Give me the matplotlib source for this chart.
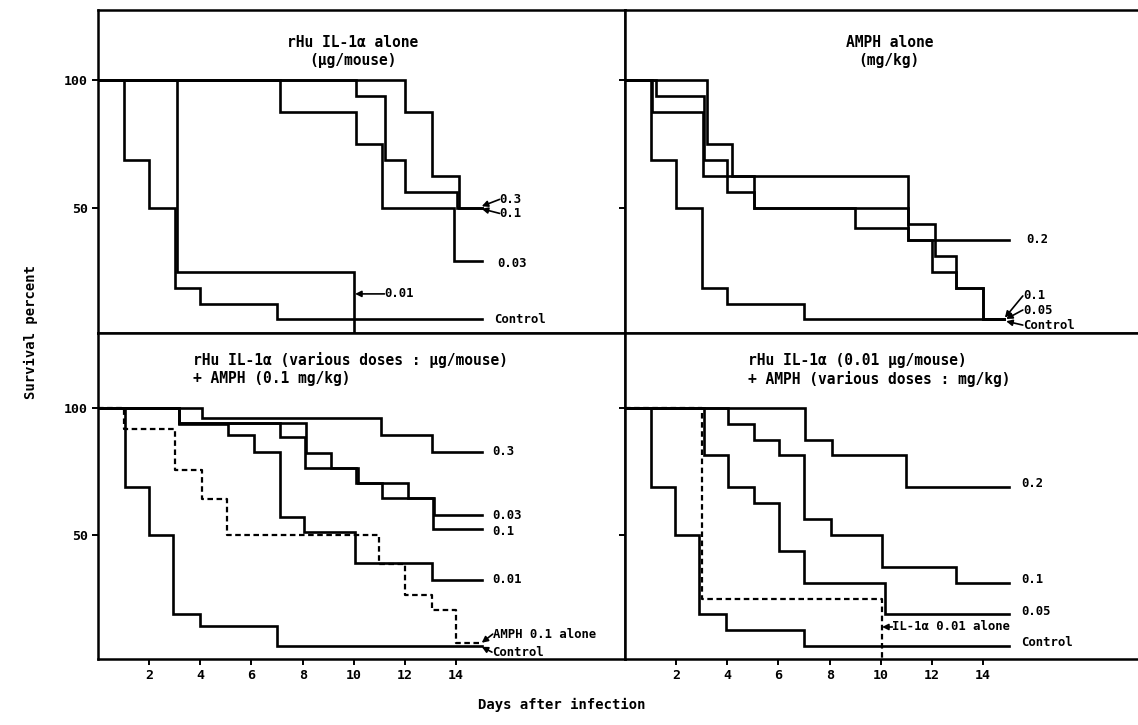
import numpy as np
import matplotlib.pyplot as plt

plt.rcParams['font.family'] = ['DejaVu Sans Mono']
plt.rcParams['font.weight'] = 'bold'

# ---- data: step days and survival percent ----
xticks = [2, 4, 6, 8, 10, 12, 14]
yticks = [50, 100]

# A: rHu IL-1a alone (ug/mouse)
a_ctrl_days = [0, 1, 2, 3, 4, 7, 15]
a_ctrl_surv = [100, 68.8, 50, 18.8, 12.5, 6.3, 6.3]
a_001_days = [0, 3.1, 10]
a_001_surv = [100, 25, 0]
a_003_days = [0, 7.1, 10.1, 11.1, 13.9, 15]
a_003_surv = [100, 87.5, 75, 50, 29, 29]
a_01_days = [0, 10.1, 11.2, 12.0, 14.05, 15]
a_01_surv = [100, 93.8, 68.8, 56.3, 50, 50]
a_03_days = [0, 12.0, 13.05, 14.1, 15]
a_03_surv = [100, 87.5, 62.5, 50, 50]

# B: AMPH alone (mg/kg)
b_ctrl_days = [0, 1.0, 2.0, 3.0, 4.0, 7.0, 14.8]
b_ctrl_surv = [100, 68.8, 50, 18.8, 12.5, 6.3, 6.3]
b_02_days = [0, 3.2, 4.2, 11.05, 15]
b_02_surv = [100, 75, 62.5, 37.5, 37.5]
b_01_days = [0, 1.2, 3.1, 4.0, 5.05, 11.07, 12.1, 12.95, 13.98, 14.8]
b_01_surv = [100, 93.8, 68.8, 56.3, 50, 43.8, 31.3, 18.8, 6.3, 6.3]
b_005_days = [0, 1.05, 3.05, 5.05, 9.0, 11.07, 12.0, 12.95, 13.98, 14.8]
b_005_surv = [100, 87.5, 62.5, 50, 42, 37.5, 25, 18.8, 6.3, 6.3]

# C: rHu IL-1a (various doses) + AMPH 0.1 mg/kg
c_ctrl_days = [0, 1.05, 2.0, 2.95, 3.97, 7.0, 15]
c_ctrl_surv = [100, 69, 50, 19, 14, 6.3, 6.3]
c_amph_days = [0, 1.0, 3.0, 4.05, 5.05, 11.0, 12.0, 13.05, 14.0, 15]
c_amph_surv = [100, 91.7, 75.5, 64, 50, 38.5, 26.3, 20.4, 7.6, 7.6]
c_001_days = [0, 3.15, 5.1, 6.1, 7.1, 8.05, 10.05, 13.05, 15]
c_001_surv = [100, 93.8, 89.2, 82.6, 57, 51, 38.9, 32.3, 32.3]
c_01_days = [0, 3.15, 7.1, 8.1, 10.1, 11.1, 13.1, 15]
c_01_surv = [100, 94, 88.5, 76.2, 70.3, 64.4, 52.5, 52.5]
c_003_days = [0, 3.15, 8.15, 9.1, 10.15, 12.1, 13.15, 15]
c_003_surv = [100, 94, 82.4, 76.2, 70.3, 64.4, 57.8, 57.8]
c_03_days = [0, 4.05, 11.05, 13.05, 15]
c_03_surv = [100, 96.2, 89.5, 82.8, 82.8]

# D: rHu IL-1a 0.01 ug/mouse + AMPH (various doses)
d_ctrl_days = [0, 1.0, 1.96, 2.9, 3.94, 7.0, 15]
d_ctrl_surv = [100, 68.8, 50, 18.8, 12.5, 6.3, 6.3]
d_il1_days = [0, 3.0, 10.05]
d_il1_surv = [100, 25, 0]
d_005_days = [0, 3.1, 4.02, 5.03, 6.02, 7.0, 10.17, 15]
d_005_surv = [100, 81.3, 68.8, 62.5, 43.8, 31.3, 18.8, 18.8]
d_01_days = [0, 4.02, 5.03, 6.02, 7.0, 8.06, 10.04, 12.94, 15]
d_01_surv = [100, 93.8, 87.5, 81.3, 56.3, 50, 37.5, 31.3, 31.3]
d_02_days = [0, 7.04, 8.1, 11.0, 15]
d_02_surv = [100, 87.5, 81.3, 68.8, 68.8]

# ---- figure ----
W, H = 1138, 725
fig = plt.figure(figsize=(W / 100, H / 100), dpi=100)


def panel(left, top, bottom, ylim):
    ax = fig.add_axes([left / W, 1 - bottom / H, 527 / W, (bottom - top) / H])
    ax.set_xlim(0, 20.6)
    ax.set_ylim(*ylim)
    ax.set_xticks(xticks)
    ax.set_yticks(yticks)
    ax.tick_params(direction='out', length=4, width=1.4, labelsize=9.5)
    for s in ax.spines.values():
        s.set_linewidth(1.8)
    return ax


ax_a = panel(98, 10, 333, (1, 127.4))
ax_b = panel(625, 10, 333, (1, 127.4))
ax_c = panel(98, 333, 659, (1.2, 129.5))
ax_d = panel(625, 333, 659, (1.2, 129.5))
ax_a.tick_params(labelbottom=False)
ax_b.tick_params(labelbottom=False, labelleft=False)
ax_d.tick_params(labelleft=False)

solid = dict(color='black', lw=1.9, where='post', solid_joinstyle='miter')
dashed = dict(color='black', lw=1.6, where='post', linestyle=(0, (2.5, 1.6)))

for d, s in [(a_ctrl_days, a_ctrl_surv), (a_001_days, a_001_surv),
             (a_003_days, a_003_surv), (a_01_days, a_01_surv),
             (a_03_days, a_03_surv)]:
    ax_a.step(d, s, **solid)
for d, s in [(b_ctrl_days, b_ctrl_surv), (b_02_days, b_02_surv),
             (b_01_days, b_01_surv), (b_005_days, b_005_surv)]:
    ax_b.step(d, s, **solid)
for d, s in [(c_ctrl_days, c_ctrl_surv), (c_001_days, c_001_surv),
             (c_01_days, c_01_surv), (c_003_days, c_003_surv),
             (c_03_days, c_03_surv)]:
    ax_c.step(d, s, **solid)
ax_c.step(c_amph_days, c_amph_surv, **dashed)
for d, s in [(d_ctrl_days, d_ctrl_surv), (d_005_days, d_005_surv),
             (d_01_days, d_01_surv), (d_02_days, d_02_surv)]:
    ax_d.step(d, s, **solid)
ax_d.step(d_il1_days, d_il1_surv, **dashed)

# panel titles
ax_a.text(9.96, 111, "rHu IL-1α alone\n(μg/mouse)", ha='center', va='center',
          fontsize=10.5, linespacing=1.25)
ax_b.text(10.33, 111, "AMPH alone\n(mg/kg)", ha='center', va='center',
          fontsize=10.5, linespacing=1.25)
ax_c.text(3.7, 115.4, "rHu IL-1α (various doses : μg/mouse)\n+ AMPH (0.1 mg/kg)",
          ha='left', va='center', fontsize=10.5, linespacing=1.2)
ax_d.text(4.82, 115, "rHu IL-1α (0.01 μg/mouse)\n+ AMPH (various doses : mg/kg)",
          ha='left', va='center', fontsize=10.5, linespacing=1.25)

# curve labels
lab = dict(fontsize=8.8, va='center', ha='left')
arr = dict(arrowstyle='-|>', color='black', lw=1.2, mutation_scale=9,
           shrinkA=0, shrinkB=0)


def tag(ax, x, y, s, tip=None):
    ax.text(x, y, s, **lab)
    if tip is not None:
        ax.annotate('', xy=tip, xytext=(x, y), arrowprops=arr)


tag(ax_a, 15.7, 53.3, "0.3", (15.0, 50.6))
tag(ax_a, 15.7, 47.8, "0.1", (15.0, 49.6))
tag(ax_a, 15.6, 28.1, "0.03")
tag(ax_a, 11.2, 16.3, "0.01", (10.05, 16.3))
tag(ax_a, 15.5, 6.1, "Control")

tag(ax_b, 15.7, 37.5, "0.2")
tag(ax_b, 15.55, 15.5, "0.1", (14.85, 7.0))
tag(ax_b, 15.55, 10.0, "0.05", (14.9, 6.5))
tag(ax_b, 15.55, 4.1, "Control", (14.9, 5.6))

tag(ax_c, 15.4, 82.7, "0.3")
tag(ax_c, 15.4, 57.5, "0.03")
tag(ax_c, 15.4, 51.2, "0.1")
tag(ax_c, 15.4, 32.3, "0.01")
tag(ax_c, 15.43, 11.0, "AMPH 0.1 alone", (15.0, 7.6))
tag(ax_c, 15.4, 3.9, "Control", (15.0, 6.0))

tag(ax_d, 15.5, 70.1, "0.2")
tag(ax_d, 15.5, 32.3, "0.1")
tag(ax_d, 15.5, 19.7, "0.05")
tag(ax_d, 10.45, 13.8, "IL-1α 0.01 alone", (10.05, 13.8))
tag(ax_d, 15.5, 7.5, "Control")

fig.text(31 / W, 1 - 332 / H, "Survival percent", rotation=90,
         ha='center', va='center', fontsize=10)
fig.text(562 / W, 1 - 705 / H, "Days after infection",
         ha='center', va='center', fontsize=10)

fig.savefig("out.png", dpi=100)
